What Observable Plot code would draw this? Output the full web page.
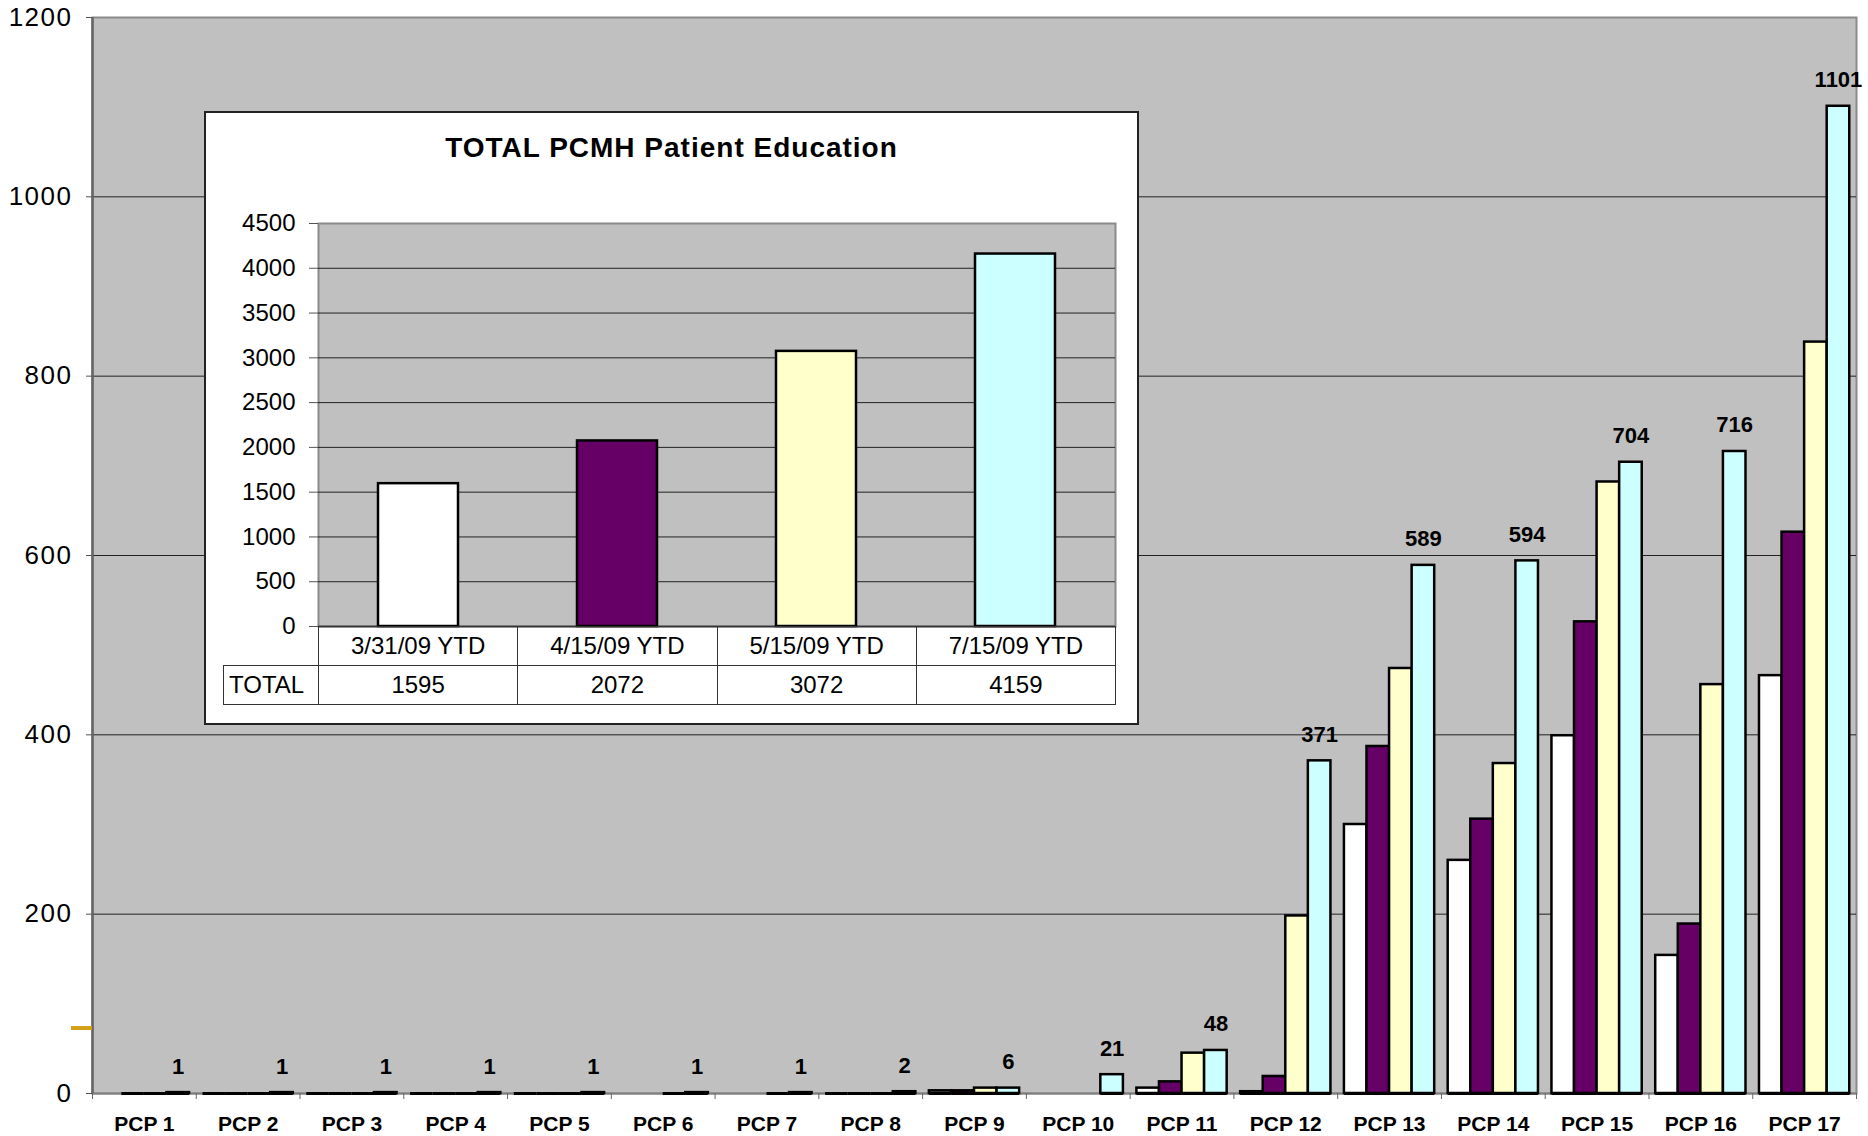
<!DOCTYPE html>
<html>
<head>
<meta charset="utf-8">
<script src="https://cdn.jsdelivr.net/npm/d3@7"></script>
<script src="https://cdn.jsdelivr.net/npm/@observablehq/plot@0.6"></script>
<style>
  body { margin: 0; background: #fff; font-family: "Liberation Sans", Arial, sans-serif; }
  #wrap { position: relative; width: 1868px; height: 1136px; overflow: hidden; }
  #main { position: absolute; left: 0; top: 0; }
  #main g[aria-label="y-axis tick label"] text { letter-spacing: 1.5px; }
  #inset { position: absolute; left: 204px; top: 111px; width: 935px; height: 614px; background: #fff;
           box-shadow: inset 0 0 0 2px #222; }
  #inset-title { position: absolute; left: 0; top: 23px; width: 100%; text-align: center;
           font-weight: bold; font-size: 28px; line-height: 28px; letter-spacing: 1px; color: #000; }
  #inset-plot { position: absolute; left: 0; top: 0; }
  #inset-table { position: absolute; border-collapse: collapse; table-layout: fixed;
           font-size: 24px; color: #000; }
  #inset-table td { border: 1px solid #333; padding: 0; text-align: center; vertical-align: middle;
           white-space: nowrap; overflow: hidden; }
  #inset-table td.blank { border: none; border-right: 1px solid #333; }
  #inset-table td.rowhead { text-align: left; padding-left: 5px; }
</style>
</head>
<body>
<div id="wrap">
  <div id="main"></div>
  <div id="inset">
    <div id="inset-plot"></div>
    <div id="inset-title">TOTAL PCMH Patient Education</div>
  </div>
</div>
<script>
// ---------- data ----------
const categories = ["PCP 1","PCP 2","PCP 3","PCP 4","PCP 5","PCP 6","PCP 7","PCP 8","PCP 9",
                    "PCP 10","PCP 11","PCP 12","PCP 13","PCP 14","PCP 15","PCP 16","PCP 17"];
const seriesNames = ["3/31/09", "4/15/09", "5/15/09", "7/15/09"];
const seriesColors = ["#ffffff", "#660066", "#ffffcc", "#ccffff"];
const values0331 = [null, 0, 0, 0, 0, null, null, 0, 3, null, 6, 2, 300, 260, 399, 154, 466];
const values0415 = [0, 0, 0, 0, 0, null, null, 0, 3, null, 13, 19, 387, 306, 526, 189, 626];
const values0515 = [0, 0, 0, 0, 0, 0, 0, 0, 6, null, 45, 198, 474, 368, 682, 456, 838];
const values0715 = [1, 1, 1, 1, 1, 1, 1, 2, 6, 21, 48, 371, 589, 594, 704, 716, 1101];
const yTicks = [0, 200, 400, 600, 800, 1000, 1200];
const markerTick = [73];

const totalCategories = ["3/31/09 YTD", "4/15/09 YTD", "5/15/09 YTD", "7/15/09 YTD"];
const totals = [1595, 2072, 3072, 4159];
const totalRowLabel = "TOTAL";
const insetTicks = [0, 500, 1000, 1500, 2000, 2500, 3000, 3500, 4000, 4500];

// ---------- main chart ----------
const seriesValues = [values0331, values0415, values0515, values0715];
const rows = [];
seriesValues.forEach((vals, si) => vals.forEach((v, gi) => {
  if (v !== null) rows.push({gi, si, pcp: categories[gi], series: seriesNames[si], value: v});
}));
const labelRows = categories.map((c, gi) => ({gi, value: values0715[gi]}));

const pad = 0.065;
const bw = (1 - 2 * pad) / seriesNames.length;
const bx1 = d => d.gi + pad + d.si * bw;
const bx2 = d => d.gi + pad + (d.si + 1) * bw;

const font = "Liberation Sans, Arial, sans-serif";
const plain = d => String(d);

const main = Plot.plot({
  width: 1868,
  height: 1136,
  marginLeft: 92,
  marginRight: 12,
  marginTop: 17,
  marginBottom: 43,
  style: {fontFamily: font, color: "#000", background: "#fff", overflow: "visible"},
  x: {type: "linear", domain: [0, categories.length], axis: null},
  y: {domain: [0, 1200], axis: null},
  color: {type: "ordinal", domain: seriesNames, range: seriesColors},
  marks: [
    Plot.frame({fill: "#c0c0c0", stroke: "#8a8a8a", strokeWidth: 2}),
    Plot.gridY(yTicks.filter(t => t > 0 && t < 1200), {stroke: "#222", strokeOpacity: 1, strokeWidth: 1}),
    Plot.ruleY([0], {stroke: "#808080", strokeWidth: 2}),
    Plot.ruleX([0], {stroke: "#666", strokeWidth: 2.5}),
    Plot.rect(rows.filter(d => d.value > 0), {
      x1: bx1, x2: bx2, y1: 0, y2: "value", fill: "series", stroke: "#000", strokeWidth: 2.5
    }),
    Plot.ruleY(rows, {x1: bx1, x2: bx2, y: 0, stroke: "#000", strokeWidth: 3}),
    Plot.axisY({ticks: yTicks, anchor: "left", label: null, tickSize: 6, tickPadding: 14, fontSize: 26,
                stroke: "#555", tickFormat: plain}),
    Plot.axisY({ticks: markerTick, anchor: "left", label: null, tickSize: 21, stroke: "#d4a017",
                strokeWidth: 4, tickFormat: () => ""}),
    Plot.axisX({ticks: d3.range(categories.length + 1), anchor: "bottom", label: null, tickSize: 6,
                stroke: "#666", tickFormat: () => ""}),
    Plot.axisX({
      ticks: d3.range(categories.length).map(i => i + 0.5), anchor: "bottom", label: null, tickSize: 0,
      tickPadding: 23, fontSize: 21, fontWeight: "bold", tickFormat: t => categories[Math.floor(t)]
    }),
    Plot.text(labelRows, {
      x: d => d.gi + pad + (seriesNames.length - 0.5) * bw, y: "value", text: d => String(d.value),
      lineAnchor: "bottom", dy: -19, fontSize: 22, fontWeight: "bold", fill: "#000"
    })
  ]
});
document.getElementById("main").appendChild(main);

// ---------- inset chart ----------
const insetW = 935, insetH = 515;
const iml = 114, imr = 24, imt = 112;
const insetRows = totalCategories.map((c, i) => ({cat: c, total: totals[i]}));

const inset = Plot.plot({
  width: insetW,
  height: insetH,
  marginLeft: iml,
  marginRight: imr,
  marginTop: imt,
  marginBottom: 0,
  style: {fontFamily: font, color: "#000", background: "transparent", overflow: "visible"},
  x: {type: "band", domain: totalCategories, paddingInner: 0.6, paddingOuter: 0.3, axis: null},
  y: {domain: [0, 4500], axis: null},
  color: {type: "ordinal", domain: totalCategories, range: seriesColors},
  marks: [
    Plot.frame({fill: "#c0c0c0", stroke: "#8a8a8a", strokeWidth: 2}),
    Plot.gridY(insetTicks.filter(t => t > 0 && t < 4500), {stroke: "#222", strokeOpacity: 1, strokeWidth: 1}),
    Plot.barY(insetRows, {x: "cat", y: "total", fill: "cat", stroke: "#000", strokeWidth: 2.5}),
    Plot.ruleY([0], {stroke: "#000", strokeWidth: 1.5}),
    Plot.axisY({ticks: insetTicks, anchor: "left", label: null, tickSize: 9, tickPadding: 14, fontSize: 24,
                stroke: "#555", tickFormat: plain})
  ]
});
document.getElementById("inset-plot").appendChild(inset);

// ---------- inset data table ----------
const colW = (insetW - iml - imr) / totalCategories.length;
const headW = 95;
const table = document.createElement("table");
table.id = "inset-table";
table.style.left = (iml - headW) + "px";
table.style.top = insetH + "px";
table.style.width = (headW + colW * totalCategories.length) + "px";
const colgroup = document.createElement("colgroup");
[headW, ...totalCategories.map(() => colW)].forEach(w => {
  const col = document.createElement("col"); col.style.width = w + "px"; colgroup.appendChild(col);
});
table.appendChild(colgroup);
const tr1 = document.createElement("tr");
tr1.style.height = "39px";
const blank = document.createElement("td"); blank.className = "blank"; tr1.appendChild(blank);
totalCategories.forEach(c => { const td = document.createElement("td"); td.textContent = c; tr1.appendChild(td); });
const tr2 = document.createElement("tr");
tr2.style.height = "39px";
const head = document.createElement("td"); head.className = "rowhead"; head.textContent = totalRowLabel; tr2.appendChild(head);
totals.forEach(v => { const td = document.createElement("td"); td.textContent = String(v); tr2.appendChild(td); });
table.appendChild(tr1);
table.appendChild(tr2);
document.getElementById("inset").appendChild(table);
</script>
</body>
</html>
